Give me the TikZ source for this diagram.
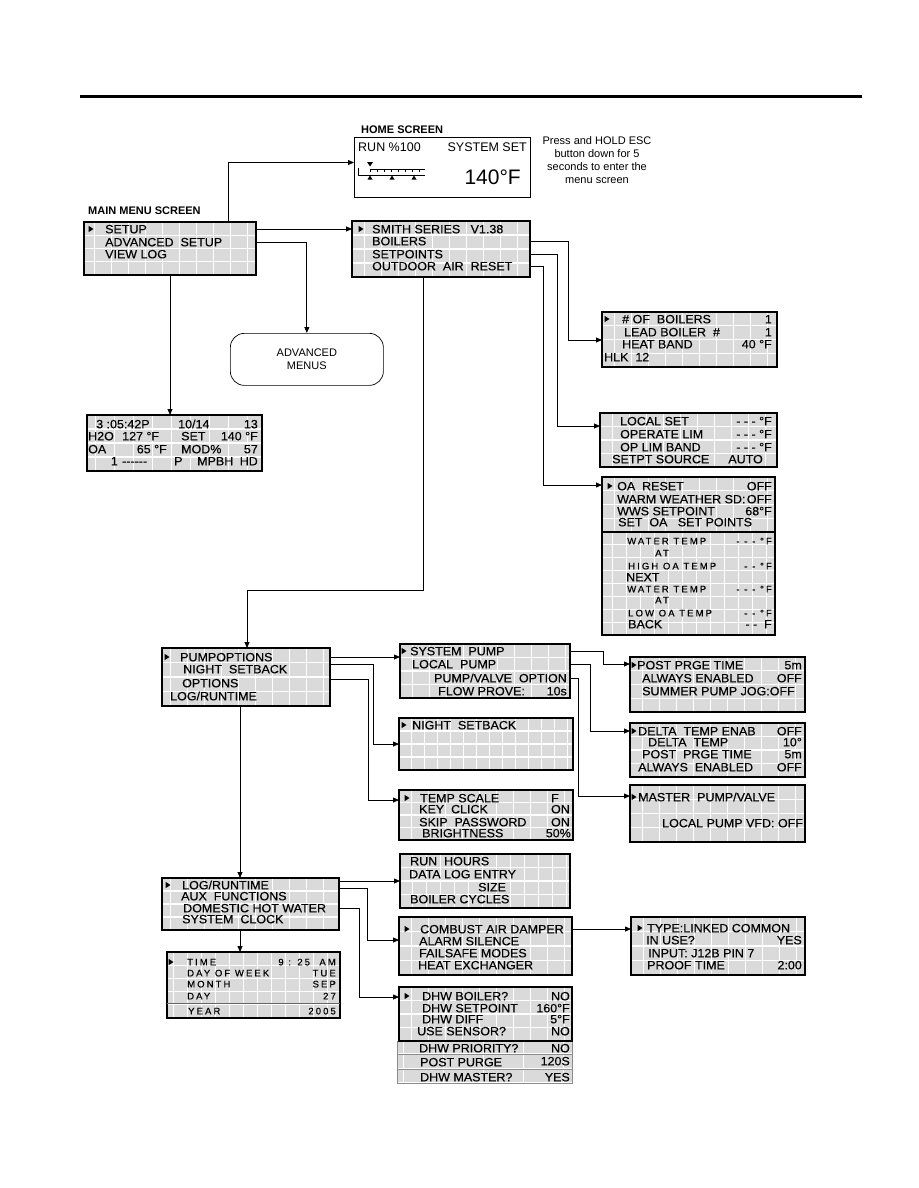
\documentclass[tikz,border=0pt]{standalone}
\usepackage{fontspec}
\setmainfont{Liberation Sans}
\newfontfamily\lcdf[FakeStretch=1.04,FakeBold=0.3]{Liberation Sans}
\newfontfamily\spf[LetterSpace=22,FakeBold=0.3]{Liberation Sans}
\usetikzlibrary{arrows.meta}
\definecolor{lcdgray}{RGB}{218,218,218}
\newcommand\lcdfont{\lcdf\fontsize{12}{12}\selectfont}
\newcommand\spcfont{\spf\fontsize{9.5}{10}\selectfont}
% grid: x1 y1 x2 y2 rows step offset
\newcommand\lcdgrid[7]{%
  \fill[lcdgray] (#1,#2) rectangle (#3,#4);
  \begin{scope}
    \clip (#1,#2) rectangle (#3,#4);
    \foreach \i in {0,...,30} {\draw[white, line width=0.9pt] ({#1+#7+\i*#6},#2) -- ({#1+#7+\i*#6},#4);}
    \pgfmathtruncatemacro\nr{#5-1}
    \foreach \j in {1,...,\nr} {\draw[white, line width=1.2pt] (#1,{#2+\j*(#4-#2)/#5}) -- (#3,{#2+\j*(#4-#2)/#5});}
  \end{scope}}
\newcommand\boxnode[5]{\node[draw, line width=1.1pt, inner sep=0pt, outer sep=0pt, anchor=north west, minimum width={#4-#2}, minimum height={#5-#3}] (#1) at (#2,#3) {};}
\newcommand\lcd[8]{\lcdgrid{#2}{#3}{#4}{#5}{#6}{#7}{#8}\boxnode{#1}{#2}{#3}{#4}{#5}}
\newcommand\mk[2]{\fill (#1-2.5,#2-3.2) -- (#1+2.5,#2) -- (#1-2.5,#2+3.2) -- cycle;}
\begin{document}
\begin{tikzpicture}[x=1pt,y=-1pt,
  arr/.style={-{Triangle[length=6pt,width=5pt]}, line width=0.8pt},
  tl/.style={font=\lcdfont, anchor=west, inner sep=0pt, text height=8.6pt, text depth=0pt},
  tr/.style={tl, anchor=east},
  sl/.style={font=\spcfont, anchor=west, inner sep=0pt, text height=6.8pt, text depth=0pt},
  sr/.style={sl, anchor=east},
  ttl/.style={font=\bfseries\fontsize{11}{13}\selectfont, anchor=west, inner sep=0pt, text height=8pt, text depth=0pt},
  hs/.style={font=\fontsize{12.5}{14}\selectfont, inner sep=0pt, text height=9pt, text depth=0pt}]
\useasboundingbox (0,0) rectangle (918,1188);
\fill[white] (0,0) rectangle (918,1188);
\draw[line width=3pt] (80,97) -- (862,97);

% ---------- HOME SCREEN ----------
\node[ttl] (homelbl) at (361,129) {HOME SCREEN};
\node[draw, line width=1pt, fill=white, anchor=north west, minimum width=176, minimum height=60, inner sep=0pt] (home) at (354,137) {};
\node[hs, anchor=west] (hrun) at (358,147) {RUN \%100};
\node[hs, anchor=east] (hsys) at (527,147) {SYSTEM SET};
\node[font=\fontsize{21}{24}\selectfont, anchor=east, inner sep=0pt, text height=15pt, text depth=0pt] (htemp) at (521,177) {140°F};
\draw[line width=0.6pt] (358,168) -- (358,175) -- (425,175);
\draw[line width=0.6pt] (370,169) -- (425,169);
\foreach \xx in {370,377,...,425} {\draw[line width=0.5pt] (\xx,169) -- (\xx,172);}
\fill (367,162) -- (373,162) -- (370,166.5) -- cycle;
\foreach \xx in {370,392,414} {\fill (\xx-2.5,179.5) -- (\xx+2.5,179.5) -- (\xx,175.5) -- cycle;}
\node[font=\fontsize{11}{13}\selectfont, align=center, inner sep=0pt] (note) at (597,160) {Press and HOLD ESC\\button down for 5\\seconds to enter the\\menu screen};

% ---------- MAIN MENU ----------
\node[ttl] (mainlbl) at (88,210) {MAIN MENU SCREEN};
\lcd{main}{84}{222}{256}{275}{4}{17}{10}
\mk{91}{229}
\node[tl] (m1) at (105,229) {SETUP};
\node[tl] (m2) at (105,242) {ADVANCED~~SETUP};
\node[tl] (m3) at (105,254) {VIEW LOG};

% ---------- ADVANCED MENUS ----------
\node[draw, line width=0.7pt, rounded corners=14pt, minimum width=153, minimum height=52, anchor=north west, inner sep=0pt, align=center, font=\fontsize{11}{13}\selectfont] (adv) at (230,333) {ADVANCED\\MENUS};

% ---------- LOG VIEW ----------
\lcd{logv}{87}{415}{262}{471}{4}{19}{8}
\node[tl] (v1) at (96,424) {3 :05:42P};
\node[tl] (v2) at (178,424) {10/14};
\node[tr] (v3) at (258,424) {13};
\node[tl] (v4) at (88,436) {H2O};
\node[tl] (v5) at (122,436) {127 °F};
\node[tl] (v6) at (181,436) {SET};
\node[tr] (v7) at (258,436) {140 °F};
\node[tl] (v8) at (88,449) {OA};
\node[tr] (v9) at (167,449) {65 °F};
\node[tl] (v10) at (181,449) {MOD\%};
\node[tr] (v11) at (258,449) {57};
\node[tr] (v12) at (118,461) {1};
\node[tl] (v13) at (122,461) {{-}{-}{-}{-}{-}{-}};
\node[tl] (v14) at (174,461) {P};
\node[tl] (v15) at (197,461) {MPBH};
\node[tr] (v16) at (258,461) {HD};

% ---------- SMITH SERIES ----------
\lcd{smith}{352}{221}{530}{277}{4}{17}{12}
\mk{361}{229}
\node[tl] (s1) at (372,229) {SMITH SERIES~~~V1.38};
\node[tl] (s2) at (372,241) {BOILERS};
\node[tl] (s3) at (372,254) {SETPOINTS};
\node[tl] (s4) at (372,266) {OUTDOOR~~AIR~~RESET};

% ---------- BOILERS ----------
\lcd{bo}{602}{312}{777}{367}{4}{17}{12}
\mk{607}{319}
\node[tl] (b1) at (622,319) {\#~OF~~BOILERS};
\node[tr] (b2) at (772,319) {1};
\node[tl] (b3) at (624,332) {LEAD BOILER~~\#};
\node[tr] (b4) at (772,332) {1};
\node[tl] (b5) at (622,344) {HEAT~BAND};
\node[tr] (b6) at (772,344) {40 °F};
\node[tl] (b7) at (604,357) {HLK~~12};

% ---------- LOCAL SET ----------
\lcd{ls}{600}{413}{777}{467}{4}{17}{12}
\node[tl] (l1a) at (620,421) {LOCAL SET};
\node[tr] (l1b) at (772,421) {- - - °F};
\node[tl] (l2a) at (620,434) {OPERATE LIM};
\node[tr] (l2b) at (772,434) {- - - °F};
\node[tl] (l3a) at (620,447) {OP LIM BAND};
\node[tr] (l3b) at (772,447) {- - - °F};
\node[tl] (l4a) at (612,459) {SETPT SOURCE};
\node[tr] (l4b) at (763,459) {AUTO};

% ---------- OA RESET ----------
\lcdgrid{602}{477}{775}{532}{4}{17}{12}
\lcdgrid{602}{532}{775}{635}{8}{14}{10}
\boxnode{oa}{602}{477}{775}{635}
\draw[line width=1.1pt] (602,532) -- (775,532);
\mk{610}{486}
\node[tl] (o1a) at (617,486) {OA~~RESET};
\node[tr] (o1b) at (772,486) {OFF};
\node[tl] (o2a) at (617,499) {WARM WEATHER SD:};
\node[tr] (o2b) at (772,499) {OFF};
\node[tl] (o3a) at (617,511) {WWS SETPOINT};
\node[tr] (o3b) at (772,511) {68°F};
\node[tl] (o4a) at (618,522) {SET~~OA~~~SET POINTS};
\node[sl] (o5a) at (627,541) {WATER TEMP};
\node[sr] (o5b) at (772,541) {- - - °F};
\node[sl] (o6a) at (655,553) {AT};
\node[sl] (o7a) at (628,566) {HIGH OA TEMP};
\node[sr] (o7b) at (772,566) {- - °F};
\node[tl] (o8a) at (626,577) {NEXT};
\node[sl] (o9a) at (627,589) {WATER TEMP};
\node[sr] (o9b) at (772,589) {- - - °F};
\node[sl] (o10a) at (655,600) {AT};
\node[sl] (o11a) at (628,613) {LOW OA TEMP};
\node[sr] (o11b) at (772,613) {- - °F};
\node[tl] (o12a) at (628,624) {BACK};
\node[tr] (o12b) at (772,624) {- -~~F};

% ---------- PUMP OPTIONS ----------
\lcd{po}{162}{648}{330}{706}{4}{17}{8}
\mk{167}{657}
\node[tl] (p1) at (180,657) {PUMPOPTIONS};
\node[tl] (p2) at (183,669) {NIGHT~~SETBACK};
\node[tl] (p3) at (182,683) {OPTIONS};
\node[tl] (p4) at (170,696) {LOG/RUNTIME};

% ---------- SYSTEM PUMP ----------
\lcd{sp}{400}{644}{570}{698}{4}{17}{12}
\mk{404}{651}
\node[tl] (q1) at (410,651) {SYSTEM~~PUMP};
\node[tl] (q2) at (412,664) {LOCAL~~PUMP};
\node[tr] (q3) at (567,678) {PUMP/VALVE~~OPTION};
\node[tl] (q4a) at (438,691) {FLOW PROVE:};
\node[tr] (q4b) at (567,691) {10s};

% ---------- POST PRGE ----------
\lcd{pp}{630}{657}{805}{712}{4}{17}{12}
\mk{634}{665}
\node[tl] (r1a) at (637,665) {POST PRGE TIME};
\node[tr] (r1b) at (802,665) {5m};
\node[tl] (r2a) at (642,678) {ALWAYS ENABLED};
\node[tr] (r2b) at (802,678) {OFF};
\node[tl] (r3a) at (642,691) {SUMMER PUMP JOG:OFF};

% ---------- DELTA TEMP ----------
\lcd{dt}{630}{723}{805}{777}{4}{17}{12}
\mk{634}{731}
\node[tl] (d1a) at (638,731) {DELTA~~TEMP~ENAB};
\node[tr] (d1b) at (802,731) {OFF};
\node[tl] (d2a) at (648,742) {DELTA~~TEMP};
\node[tr] (d2b) at (802,742) {10°};
\node[tl] (d3a) at (642,754) {POST~~PRGE TIME};
\node[tr] (d3b) at (802,754) {5m};
\node[tl] (d4a) at (638,767) {ALWAYS~~ENABLED};
\node[tr] (d4b) at (802,767) {OFF};

% ---------- MASTER PUMP ----------
\lcd{mp}{630}{785}{805}{842}{4}{17}{12}
\mk{634}{797}
\node[tl] (e1) at (638,797) {MASTER~~PUMP/VALVE};
\node[tl] (e2) at (662,823) {LOCAL PUMP VFD: OFF};

% ---------- NIGHT SETBACK ----------
\lcd{ns}{399}{718}{573}{770}{4}{13}{12}
\mk{404}{725}
\node[tl] (n1) at (412,725) {NIGHT~~SETBACK};

% ---------- TEMP SCALE ----------
\lcd{ts}{399}{790}{573}{840}{4}{17}{12}
\mk{407}{798}
\node[tl] (t1a) at (420,798) {TEMP~SCALE};
\node[tr] (t1b) at (559,798) {F};
\node[tl] (t2a) at (419,809) {KEY~~CLICK};
\node[tr] (t2b) at (570,809) {ON};
\node[tl] (t3a) at (419,822) {SKIP~~PASSWORD};
\node[tr] (t3b) at (570,822) {ON};
\node[tl] (t4a) at (422,833) {BRIGHTNESS};
\node[tr] (t4b) at (571,833) {50\%};

% ---------- LOG / RUNTIME ----------
\lcd{lr}{162}{878}{339}{930}{4}{17}{8}
\mk{168}{885}
\node[tl] (g1) at (182,885) {LOG/RUNTIME};
\node[tl] (g2) at (181,896) {AUX~~FUNCTIONS};
\node[tl] (g3) at (183,908) {DOMESTIC HOT WATER};
\node[tl] (g4) at (182,919) {SYSTEM~~CLOCK};

% ---------- RUN HOURS ----------
\lcd{rh}{400}{854}{570}{908}{4}{14}{12}
\node[tl] (h1) at (410,861) {RUN~~HOURS};
\node[tl] (h2) at (409,874) {DATA LOG ENTRY};
\node[tl] (h3) at (478,887) {SIZE};
\node[tl] (h4) at (410,899) {BOILER CYCLES};

% ---------- SYSTEM CLOCK ----------
\lcd{tm}{167}{952}{340}{1018}{5}{14}{6}
\draw[line width=1pt, black!60] (167,1003) -- (340,1003);
\mk{171}{962}
\node[sl] (k1a) at (187,962) {TIME};
\node[sr] (k1b) at (336,962) {9 : 25~~AM};
\node[sl] (k2a) at (187,973) {DAY OF WEEK};
\node[sr] (k2b) at (336,973) {TUE};
\node[sl] (k3a) at (187,984) {MONTH};
\node[sr] (k3b) at (336,984) {SEP};
\node[sl] (k4a) at (187,996) {DAY};
\node[sr] (k4b) at (336,996) {27};
\node[sl] (k5a) at (188,1011) {YEAR};
\node[sr] (k5b) at (336,1011) {2005};

% ---------- AUX FUNCTIONS ----------
\lcd{ca}{399}{917}{572}{975}{4}{17}{12}
\mk{407}{929}
\node[tl] (c1) at (420,929) {COMBUST AIR~DAMPER};
\node[tl] (c2) at (419,941) {ALARM~SILENCE};
\node[tl] (c3) at (419,953) {FAILSAFE MODES};
\node[tl] (c4) at (418,965) {HEAT EXCHANGER};

% ---------- DAMPER TYPE ----------
\lcd{ty}{631}{917}{805}{975}{4}{17}{12}
\mk{640}{928}
\node[tl] (y1) at (647,928) {TYPE:LINKED COMMON};
\node[tl] (y2a) at (646,940) {IN USE?};
\node[tr] (y2b) at (802,940) {YES};
\node[tl] (y3) at (648,953) {INPUT: J12B PIN 7};
\node[tl] (y4a) at (647,965) {PROOF TIME};
\node[tr] (y4b) at (802,965) {2:00};

% ---------- DHW ----------
\lcdgrid{397}{1041}{572}{1054}{1}{40}{6}
\lcdgrid{397}{1054}{572}{1069}{1}{40}{6}
\lcdgrid{397}{1069}{572}{1083}{1}{40}{6}
\node[draw=black!45, line width=0.8pt, inner sep=0pt, anchor=north west, minimum width=175, minimum height=13] (dhwa) at (397,1041) {};
\node[draw=black!45, line width=0.8pt, inner sep=0pt, anchor=north west, minimum width=175, minimum height=15] (dhwb) at (397,1054) {};
\node[draw=black!45, line width=0.8pt, inner sep=0pt, anchor=north west, minimum width=175, minimum height=14] (dhwc) at (397,1069) {};
\lcd{dhw}{399}{987}{572}{1041}{4}{17}{12}
\mk{407}{996}
\node[tl] (w1a) at (422,996) {DHW BOILER?};
\node[tr] (w1b) at (570,996) {NO};
\node[tl] (w2a) at (422,1008) {DHW SETPOINT};
\node[tr] (w2b) at (570,1008) {160°F};
\node[tl] (w3a) at (422,1019) {DHW DIFF};
\node[tr] (w3b) at (570,1019) {5°F};
\node[tl] (w4a) at (417,1031) {USE SENSOR?};
\node[tr] (w4b) at (570,1031) {NO};
\node[tl] (w5a) at (419,1048) {DHW PRIORITY?};
\node[tr] (w5b) at (570,1048) {NO};
\node[tl] (w6a) at (420,1062) {POST PURGE};
\node[tr] (w6b) at (570,1061) {120S};
\node[tl] (w7a) at (420,1077) {DHW MASTER?};
\node[tr] (w7b) at (570,1077) {YES};

% ---------- CONNECTORS ----------
\draw[arr] ([xshift=58pt]main.north) |- ([yshift=5pt]home.west);
\draw[arr] (main.east |- m1) -- (smith.west |- m1);
\draw[arr] (main.east |- m2) -| (adv.north);
\draw[arr] (main.south) -- (logv.north -| main.south);

\draw[arr] (smith.east |- s2) -| ([xshift=-34pt,yshift=-28pt]bo.north west) -- ([yshift=-28pt]bo.north west);
\draw[arr] (smith.east |- s3) -| ([xshift=-43pt,yshift=-13pt]ls.north west) -- ([yshift=-13pt]ls.north west);
\draw[arr] (smith.east |- s4) -| ([xshift=-59pt,yshift=-8pt]oa.north west) -- ([yshift=-8pt]oa.north west);
\coordinate (kn) at (247,590);
\draw[arr] ([xshift=-18pt]smith.south) |- (kn) -- (po.north -| kn);

\draw[arr] (po.east |- p1) -- (sp.west |- p1);
\draw[arr] ([yshift=-16pt]po.north east) -| ([xshift=-26pt]ns.west) -- (ns.west);
\draw[arr] ([yshift=-31pt]po.north east) -| ([xshift=-31pt,yshift=-10pt]ts.north west) -- ([yshift=-10pt]ts.north west);
\coordinate (pv) at ([xshift=-6pt]po.south);
\draw[arr] (pv) -- (pv |- lr.north);

\draw[arr] (sp.east |- q1) -| ([xshift=-27pt,yshift=-7pt]pp.north west) -- ([yshift=-7pt]pp.north west);
\draw[arr] (sp.east |- q2) -| ([xshift=-40pt,yshift=-8pt]dt.north west) -- ([yshift=-8pt]dt.north west);
\draw[arr] (sp.east |- q3) -| ([xshift=-52pt,yshift=-11pt]mp.north west) -- ([yshift=-11pt]mp.north west);

\draw[arr] (lr.east |- rh.west) -- (rh.west);
\draw[arr] ([yshift=-10pt]lr.north east) -| ([xshift=-32pt,yshift=-23pt]ca.north west) -- ([yshift=-23pt]ca.north west);
\draw[arr] (lr.east |- g3) -| ([xshift=-40pt,yshift=-10pt]dhw.north west) -- ([yshift=-10pt]dhw.north west);
\coordinate (lv) at ([xshift=-10.5pt]lr.south);
\draw[arr] (lv) -- (lv |- tm.north);
\draw[arr] (ca.east |- c1) -- (ty.west |- c1);
\end{tikzpicture}
\end{document}
